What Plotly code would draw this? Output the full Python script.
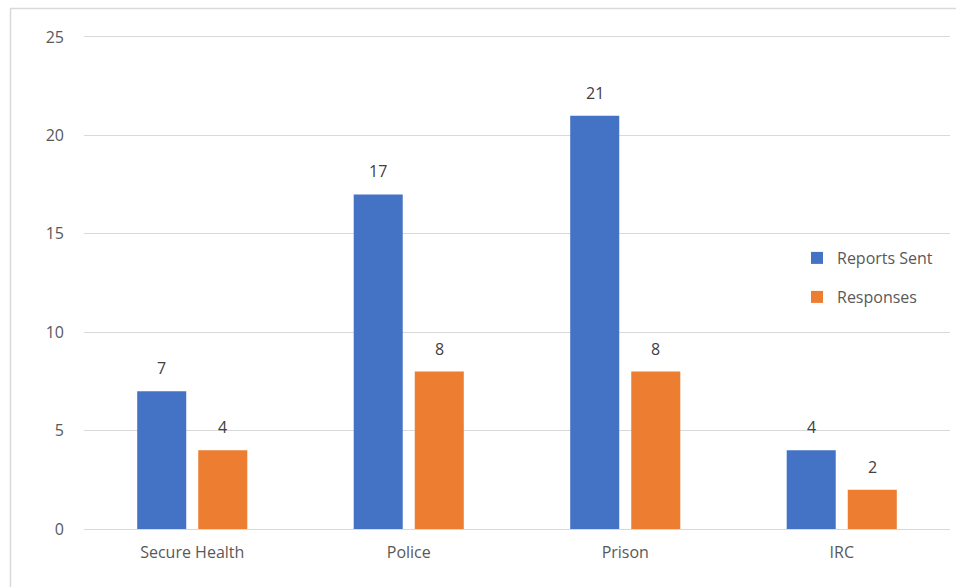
import plotly.graph_objects as go

categories = ["Secure Health", "Police", "Prison", "IRC"]
reports_sent = [7, 17, 21, 4]
responses = [4, 8, 8, 2]
y_ticks = [0, 5, 10, 15, 20, 25]

W, H = 956, 587
ml, mr, mt, mb = 84, 6, 32, 58
pw, ph = W - ml - mr, H - mt - mb

def px_x(p):
    return (p - ml) / pw

def px_y(p):
    return 1 - (p - mt) / ph

font_fam = "Open Sans, Liberation Sans, sans-serif"

fig = go.Figure()
fig.add_trace(go.Bar(
    x=categories, y=reports_sent, name="Reports Sent",
    marker=dict(color="#4472c4", line=dict(width=0)),
    legend="legend",
))
fig.add_trace(go.Bar(
    x=categories, y=responses, name="Responses",
    marker=dict(color="#ed7d31", line=dict(width=0)),
    legend="legend2",
))

annotations = []
for series, shift in ((reports_sent, -30.5), (responses, 30.5)):
    for cat, val in zip(categories, series):
        annotations.append(dict(
            x=cat, y=val, xref="x", yref="y", text=str(val),
            showarrow=False, xshift=shift, yshift=23, yanchor="middle",
            font=dict(size=16, color="#404040", family=font_fam),
        ))

legend_common = dict(
    font=dict(size=16, color="#595959", family=font_fam),
    bgcolor="rgba(0,0,0,0)", xanchor="left", yanchor="middle",
    itemwidth=30,
)

fig.update_layout(
    width=W, height=H,
    margin=dict(l=ml, r=mr, t=mt, b=mb),
    paper_bgcolor="white", plot_bgcolor="white",
    barmode="group", bargap=0.436, bargroupgap=0.197,
    showlegend=True,
    legend=dict(x=px_x(797), y=px_y(258), **legend_common),
    legend2=dict(x=px_x(797), y=px_y(297), **legend_common),
    xaxis=dict(
        showgrid=False, showline=False, ticks="", ticklabelstandoff=12,
        tickfont=dict(size=16, color="#595959", family=font_fam),
    ),
    yaxis=dict(
        range=[0, 25.25], tickvals=y_ticks,
        showgrid=True, gridcolor="#d9d9d9", gridwidth=1,
        zeroline=True, zerolinecolor="#d9d9d9", zerolinewidth=1,
        showline=False, ticks="", ticklabelstandoff=19,
        tickfont=dict(size=16, color="#595959", family=font_fam),
    ),
    font=dict(family=font_fam),
    annotations=annotations,
    shapes=[dict(
        type="rect", xref="paper", yref="paper",
        x0=px_x(10.5), x1=px_x(W + 20), y0=px_y(8.5), y1=px_y(H + 20),
        line=dict(color="#d9d9d9", width=1.5), fillcolor="rgba(0,0,0,0)",
        layer="below",
    )],
)

fig.write_html("out.html")
